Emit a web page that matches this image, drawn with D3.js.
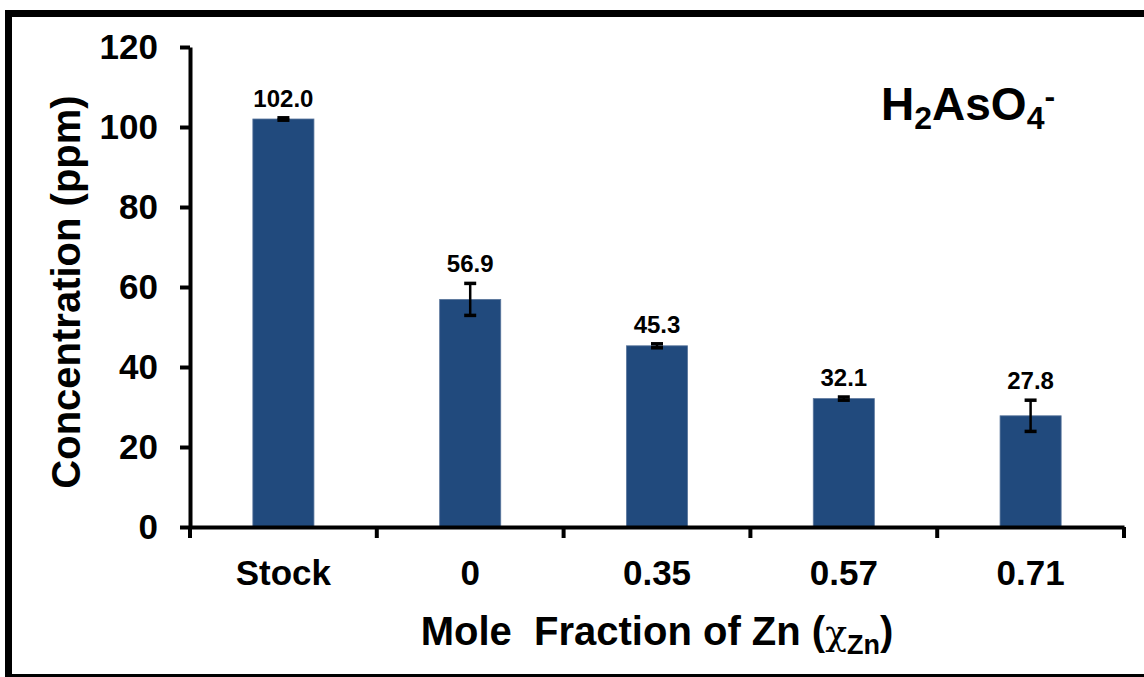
<!DOCTYPE html>
<html>
<head>
<meta charset="utf-8">
<script src="https://cdn.jsdelivr.net/npm/d3@7"></script>
<style>
  html, body { margin: 0; padding: 0; background: #fff; }
  svg { display: block; }
  text { font-family: "Liberation Sans", Arial, sans-serif; font-weight: bold; fill: #000; }
</style>
</head>
<body>
<script>
// Arsenate concentration remaining after treatment, by Zn mole fraction
const categories = ["Stock", "0", "0.35", "0.57", "0.71"];
const values = [102.0, 56.9, 45.3, 32.1, 27.8];
const errors = [0.3, 4.0, 0.5, 0.4, 3.9];
const valueLabels = ["102.0", "56.9", "45.3", "32.1", "27.8"];
const yTicks = [0, 20, 40, 60, 80, 100, 120];

const W = 1144, H = 677;
const plot = { left: 190, right: 1124, top: 47, bottom: 527 };

const svg = d3.select("body").append("svg")
  .attr("width", W).attr("height", H);

// outer frame (top, left and bottom edges)
svg.append("rect").attr("x", 5).attr("y", 10).attr("width", W - 5).attr("height", 7).attr("fill", "#000");
svg.append("rect").attr("x", 5).attr("y", 10).attr("width", 7).attr("height", H - 10).attr("fill", "#000");
svg.append("rect").attr("x", 5).attr("y", H - 3).attr("width", W - 5).attr("height", 3).attr("fill", "#000");

const x = d3.scaleBand()
  .domain(categories)
  .range([plot.left, plot.right])
  .paddingInner(0.673)
  .paddingOuter(0.3365);

const y = d3.scaleLinear()
  .domain([0, 120])
  .range([plot.bottom, plot.top]);

const data = categories.map((c, i) => ({ cat: c, v: values[i], e: errors[i], label: valueLabels[i] }));

// bars
svg.append("g").selectAll("rect").data(data).join("rect")
  .attr("x", d => x(d.cat))
  .attr("y", d => y(d.v))
  .attr("width", x.bandwidth())
  .attr("height", d => y(0) - y(d.v))
  .attr("fill", "#214a7d")
  .attr("stroke", "#5a769c")
  .attr("stroke-width", 0.8);

// error bars
const capW = 12;
const eb = svg.append("g").selectAll("g").data(data).join("g")
  .attr("transform", d => `translate(${x(d.cat) + x.bandwidth() / 2},0)`);
eb.append("line")
  .attr("y1", d => y(d.v - d.e)).attr("y2", d => y(d.v + d.e))
  .attr("stroke", "#000").attr("stroke-width", 2.5);
eb.append("line")
  .attr("x1", -capW / 2).attr("x2", capW / 2)
  .attr("y1", d => y(d.v + d.e)).attr("y2", d => y(d.v + d.e))
  .attr("stroke", "#000").attr("stroke-width", 3.5);
eb.append("line")
  .attr("x1", -capW / 2).attr("x2", capW / 2)
  .attr("y1", d => y(d.v - d.e)).attr("y2", d => y(d.v - d.e))
  .attr("stroke", "#000").attr("stroke-width", 3.5);

// value labels above each error bar
svg.append("g").selectAll("text").data(data).join("text")
  .attr("x", d => x(d.cat) + x.bandwidth() / 2)
  .attr("y", d => y(d.v + d.e) - 11)
  .attr("text-anchor", "middle")
  .attr("font-size", 24)
  .text(d => d.label);

// y axis
const yAxis = svg.append("g")
  .attr("transform", `translate(${plot.left},0)`)
  .call(d3.axisLeft(y).tickValues(yTicks).tickSize(10).tickSizeOuter(0).tickPadding(22));
yAxis.select(".domain").attr("stroke", "#000").attr("stroke-width", 4);
yAxis.selectAll(".tick line").attr("stroke", "#000").attr("stroke-width", 4);
yAxis.selectAll(".tick text")
  .attr("font-size", 35)
  .attr("font-family", "'Liberation Sans', Arial, sans-serif")
  .attr("font-weight", "bold");

// x axis: baseline with ticks on category boundaries
const xAxis = svg.append("g")
  .attr("transform", `translate(0,${plot.bottom})`)
  .call(d3.axisBottom(x).tickSize(0).tickSizeOuter(0).tickPadding(0));
xAxis.select(".domain").attr("stroke", "#000").attr("stroke-width", 4);
xAxis.selectAll(".tick text")
  .attr("y", 58)
  .attr("dy", 0)
  .attr("font-size", 35)
  .attr("font-family", "'Liberation Sans', Arial, sans-serif")
  .attr("font-weight", "bold");
const bounds = d3.range(categories.length + 1).map(i => plot.left + i * x.step());
xAxis.selectAll("line.bound").data(bounds).join("line")
  .attr("class", "bound")
  .attr("x1", d => d).attr("x2", d => d)
  .attr("y1", 0).attr("y2", 11)
  .attr("stroke", "#000").attr("stroke-width", 4);

// axis titles
svg.append("text")
  .attr("transform", "translate(80,292) rotate(-90)")
  .attr("text-anchor", "middle")
  .attr("font-size", 40)
  .text("Concentration (ppm)");

const xt = svg.append("text")
  .attr("x", 657).attr("y", 645)
  .attr("text-anchor", "middle")
  .attr("font-size", 40);
xt.append("tspan").text("Mole\u00A0 Fraction of Zn (");
xt.append("tspan")
  .attr("font-family", "'DejaVu Serif', 'Liberation Serif', serif")
  .attr("font-weight", "normal")
  .attr("font-size", 36)
  .text("\u03C7");
xt.append("tspan").attr("font-size", 27).attr("dy", 9).text("Zn");
xt.append("tspan").attr("dy", -9).text(")");

// species label
const sp = svg.append("text")
  .attr("x", 881).attr("y", 120)
  .attr("font-size", 46);
sp.append("tspan").text("H");
sp.append("tspan").attr("font-size", 32).attr("dy", 9).text("2");
sp.append("tspan").attr("dy", -9).text("AsO");
sp.append("tspan").attr("font-size", 32).attr("dy", 9).text("4");
sp.append("tspan").attr("font-size", 32).attr("dy", -22).text("-");
</script>
</body>
</html>
